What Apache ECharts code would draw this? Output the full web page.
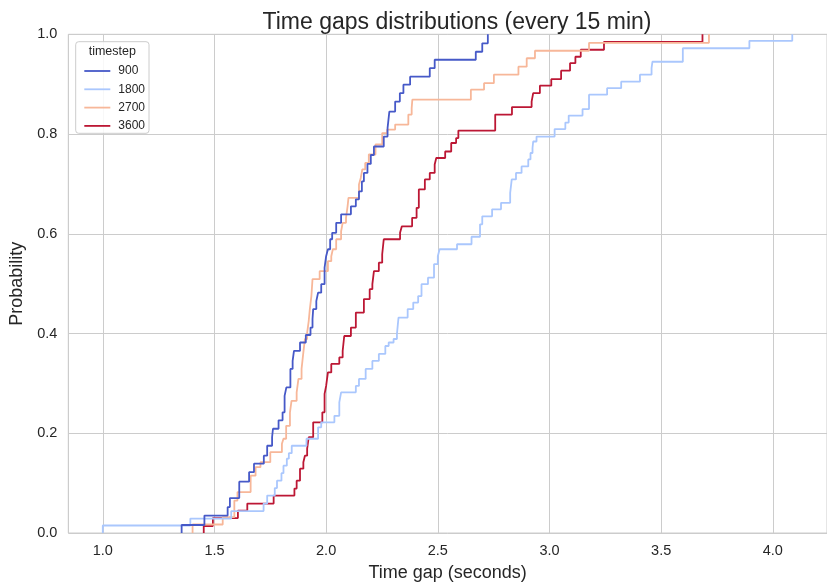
<!DOCTYPE html>
<html>
<head>
<meta charset="utf-8">
<script src="https://cdn.jsdelivr.net/npm/echarts@6/dist/echarts.min.js"></script>
<style>
html,body{margin:0;padding:0;background:#fff;}
#chart{width:827px;height:587px;}
</style>
</head>
<body>
<div id="chart"></div>
<script>
// ---- data ----
const levels = ['900', '1800', '2700', '3600'];

const x900 = [1.353, 1.353, 1.455, 1.559, 1.569, 1.611, 1.655, 1.677, 1.721, 1.736, 1.758, 1.762, 1.787, 1.805, 1.814, 1.822, 1.840, 1.850, 1.856, 1.883, 1.909, 1.930, 1.939, 1.942, 1.956, 1.964, 1.978, 1.993, 2.000, 2.008, 2.018, 2.027, 2.045, 2.067, 2.111, 2.133, 2.147, 2.160, 2.169, 2.185, 2.200, 2.214, 2.258, 2.275, 2.283, 2.309, 2.330, 2.346, 2.376, 2.464, 2.486, 2.670, 2.699, 2.724];
const y900 = [0, 0.016, 0.035, 0.052, 0.070, 0.103, 0.122, 0.139, 0.155, 0.175, 0.192, 0.209, 0.226, 0.242, 0.275, 0.292, 0.329, 0.345, 0.365, 0.382, 0.397, 0.412, 0.429, 0.449, 0.465, 0.482, 0.499, 0.532, 0.555, 0.569, 0.589, 0.602, 0.622, 0.639, 0.655, 0.669, 0.685, 0.705, 0.722, 0.740, 0.758, 0.775, 0.795, 0.812, 0.845, 0.865, 0.882, 0.899, 0.915, 0.932, 0.949, 0.965, 0.982, 1.0];

const x1800 = [1.000, 1.000, 1.392, 1.575, 1.720, 1.736, 1.770, 1.780, 1.800, 1.809, 1.824, 1.833, 1.846, 1.912, 1.964, 1.978, 2.037, 2.059, 2.067, 2.133, 2.147, 2.177, 2.207, 2.236, 2.265, 2.280, 2.302, 2.317, 2.324, 2.365, 2.390, 2.412, 2.427, 2.456, 2.483, 2.500, 2.508, 2.586, 2.651, 2.689, 2.699, 2.743, 2.783, 2.824, 2.831, 2.850, 2.875, 2.905, 2.915, 2.924, 2.927, 2.942, 3.023, 3.071, 3.086, 3.148, 3.177, 3.258, 3.321, 3.405, 3.457, 3.461, 3.597, 3.895, 4.087];
const y1800 = [0, 0.015, 0.029, 0.044, 0.059, 0.075, 0.090, 0.105, 0.120, 0.135, 0.149, 0.160, 0.175, 0.189, 0.212, 0.222, 0.235, 0.262, 0.282, 0.295, 0.309, 0.329, 0.345, 0.359, 0.375, 0.382, 0.389, 0.399, 0.432, 0.449, 0.462, 0.475, 0.499, 0.512, 0.539, 0.555, 0.569, 0.579, 0.594, 0.619, 0.635, 0.649, 0.662, 0.682, 0.709, 0.722, 0.735, 0.749, 0.762, 0.772, 0.785, 0.795, 0.810, 0.823, 0.837, 0.850, 0.879, 0.892, 0.905, 0.919, 0.932, 0.945, 0.972, 0.987, 1.0];

const x2700 = [1.402, 1.402, 1.537, 1.589, 1.603, 1.662, 1.684, 1.706, 1.750, 1.802, 1.809, 1.821, 1.838, 1.845, 1.868, 1.876, 1.890, 1.898, 1.905, 1.915, 1.922, 1.927, 1.934, 1.939, 1.971, 2.008, 2.023, 2.030, 2.045, 2.067, 2.074, 2.089, 2.096, 2.100, 2.147, 2.155, 2.162, 2.175, 2.191, 2.221, 2.251, 2.273, 2.309, 2.368, 2.383, 2.386, 2.648, 2.707, 2.751, 2.861, 2.898, 2.935, 3.177, 3.714];
const y2700 = [0, 0.017, 0.032, 0.065, 0.082, 0.115, 0.132, 0.142, 0.162, 0.179, 0.189, 0.215, 0.242, 0.265, 0.282, 0.309, 0.329, 0.362, 0.389, 0.402, 0.425, 0.449, 0.475, 0.509, 0.525, 0.545, 0.555, 0.569, 0.589, 0.605, 0.622, 0.632, 0.655, 0.672, 0.699, 0.712, 0.729, 0.742, 0.759, 0.779, 0.802, 0.809, 0.819, 0.839, 0.852, 0.869, 0.889, 0.902, 0.919, 0.935, 0.952, 0.967, 0.983, 1.0];

const x3600 = [1.452, 1.452, 1.493, 1.605, 1.647, 1.765, 1.858, 1.868, 1.883, 1.898, 1.905, 1.915, 1.922, 1.942, 1.983, 1.993, 2.000, 2.008, 2.023, 2.059, 2.074, 2.081, 2.111, 2.133, 2.169, 2.195, 2.207, 2.214, 2.236, 2.251, 2.258, 2.331, 2.339, 2.385, 2.405, 2.415, 2.442, 2.464, 2.486, 2.493, 2.533, 2.560, 2.582, 2.592, 2.757, 2.832, 2.920, 2.927, 2.957, 3.008, 3.052, 3.092, 3.116, 3.140, 3.244, 3.685];
const y3600 = [0, 0.014, 0.030, 0.045, 0.059, 0.075, 0.089, 0.105, 0.129, 0.142, 0.155, 0.169, 0.192, 0.222, 0.242, 0.279, 0.295, 0.322, 0.339, 0.352, 0.365, 0.395, 0.412, 0.442, 0.469, 0.489, 0.499, 0.525, 0.542, 0.559, 0.589, 0.602, 0.615, 0.632, 0.652, 0.689, 0.709, 0.722, 0.739, 0.752, 0.765, 0.782, 0.792, 0.807, 0.839, 0.854, 0.865, 0.882, 0.897, 0.910, 0.927, 0.942, 0.955, 0.969, 0.985, 1.0];

const yTicks = [0, 0.2, 0.4, 0.6, 0.8, 1.0];

// ---- build ----
function pairs(xs, ys) { return xs.map((x, i) => [x, ys[i]]); }
const seriesData = {
  '900': pairs(x900, y900),
  '1800': pairs(x1800, y1800),
  '2700': pairs(x2700, y2700),
  '3600': pairs(x3600, y3600)
};
const colors = { '900': '#4659c8', '1800': '#aac7fd', '2700': '#f7b799', '3600': '#bc1734' };

const FONT = 'Liberation Sans, Arial, sans-serif';
const TXT = '#262626';

const chart = echarts.init(document.getElementById('chart'), null, { renderer: 'canvas' });

const drawOrder = ['3600', '2700', '1800', '900'];
const series = drawOrder.map(k => ({
  name: k,
  type: 'line',
  step: 'end',
  symbol: 'none',
  data: seriesData[k],
  lineStyle: { width: 1.8, color: colors[k] },
  itemStyle: { color: colors[k] },
  emphasis: { disabled: true },
  z: 3
}));

chart.setOption({
  animation: false,
  backgroundColor: '#ffffff',
  title: {
    text: 'Time gaps distributions (every 15 min)',
    left: 452, top: 6, textAlign: 'center',
    textStyle: { fontFamily: FONT, fontSize: 23, fontWeight: 'normal', color: TXT }
  },
  grid: {
    left: 68.3, top: 34.3, width: 769.7, height: 500,
    show: true, borderColor: '#cccccc', borderWidth: 1, backgroundColor: 'transparent'
  },
  xAxis: {
    type: 'value', min: 0.8456, max: 4.2425,
    splitNumber: 7,
    name: 'Time gap (seconds)', nameLocation: 'middle', nameGap: 31,
    nameTextStyle: { fontFamily: FONT, fontSize: 18, color: TXT },
    axisLine: { show: false }, axisTick: { show: false },
    axisLabel: {
      margin: 10, fontFamily: FONT, fontSize: 14.5, color: TXT,
      showMinLabel: false, showMaxLabel: false,
      formatter: v => (Math.abs(v * 2 - Math.round(v * 2)) < 1e-6 ? v.toFixed(1) : '')
    },
    splitLine: { show: true, lineStyle: { color: '#cccccc', width: 1 } }
  },
  yAxis: {
    type: 'value', min: yTicks[0], max: yTicks[yTicks.length - 1], interval: 0.2,
    name: 'Probability', nameLocation: 'middle', nameGap: 37,
    nameTextStyle: { fontFamily: FONT, fontSize: 18, color: TXT },
    axisLine: { show: false }, axisTick: { show: false },
    axisLabel: { margin: 11, fontFamily: FONT, fontSize: 14.5, color: TXT, formatter: v => v.toFixed(1) },
    splitLine: { show: true, lineStyle: { color: '#cccccc', width: 1 } }
  },
  legend: {
    data: levels,
    orient: 'vertical', left: 79.3, top: 60,
    itemWidth: 26, itemHeight: 12, itemGap: 6.3,
    icon: 'path://M0,0L26,0L26,1.8L0,1.8Z',
    textStyle: { fontFamily: FONT, fontSize: 12, lineHeight: 12, color: TXT, padding: [0, 0, 0, 3] },
    selectedMode: false, z: 20
  },
  graphic: [
    {
      type: 'rect', z: 15, silent: true,
      shape: { x: 75.7, y: 41.7, width: 73.3, height: 91.6, r: 3 },
      style: { fill: 'rgba(255,255,255,0.85)', stroke: '#cccccc', lineWidth: 1 }
    },
    {
      type: 'text', z: 21, silent: true,
      x: 112.3, y: 51.7,
      style: { text: 'timestep', fontFamily: FONT, fontSize: 12.5, fill: TXT, align: 'center', verticalAlign: 'middle' }
    }
  ],
  series: series
});
</script>
</body>
</html>
